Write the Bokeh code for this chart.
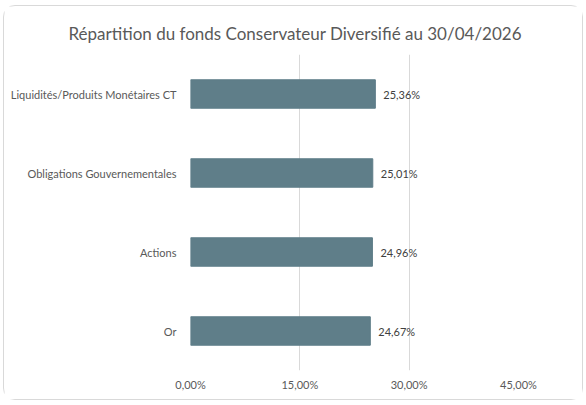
from bokeh.plotting import figure
from bokeh.models import ColumnDataSource, FactorRange, FixedTicker, Range1d
from bokeh.core.properties import value
from bokeh.embed import file_html
from bokeh.resources import INLINE

title = "Répartition du fonds Conservateur Diversifié au 30/04/2026"
categories = ["Liquidités/Produits Monétaires CT", "Obligations Gouvernementales", "Actions", "Or"]
values = [25.36, 25.01, 24.96, 24.67]
ticks = [0, 15, 30, 45]
tick_labels = ["0,00%", "15,00%", "30,00%", "45,00%"]

FONT = "Lato"
labels = [f"{v:.2f}".replace(".", ",") + "%" for v in values]
src = ColumnDataSource(dict(cat=categories, val=values, lab=labels))

p = figure(width=580, height=395, output_backend="svg", toolbar_location=None,
           y_range=FactorRange(factors=list(reversed(categories))),
           x_range=Range1d(0, 45),
           min_border_left=186, min_border_right=66, min_border_top=48, min_border_bottom=31)
p.styles = {"border": "1px solid #D9D9D9", "border-radius": "12px", "margin-left": "3px", "margin-top": "5px",
            "box-sizing": "border-box"}

p.title.text = title
p.title.align = "left"
p.title.offset = -122
p.title.text_font = FONT
p.title.text_font_size = "17px"
p.title.text_font_style = "normal"
p.title.text_color = "#595959"
p.title.standoff = 22

p.hbar(y="cat", right="val", left=0, height=0.36, source=src, color="#5F7E89")
p.text(x="val", y="cat", text="lab", source=src, x_offset=8, text_baseline="middle",
       text_font=value(FONT), text_font_size="11px", text_color="#404040")

p.outline_line_color = None
p.ygrid.grid_line_color = None
p.xgrid.grid_line_color = "#D9D9D9"
p.xaxis.ticker = FixedTicker(ticks=ticks)
p.xaxis.major_label_overrides = {t: l for t, l in zip(ticks, tick_labels)}
for ax in (p.xaxis, p.yaxis):
    ax.axis_line_color = None
    ax.major_tick_line_color = None
    ax.minor_tick_line_color = None
    ax.major_label_text_font = FONT
    ax.major_label_text_font_size = "11px"
    ax.major_label_text_color = "#595959"
p.xaxis.major_label_standoff = 1
p.yaxis.major_label_standoff = 8

open("out.html", "w").write(file_html(p, INLINE))
